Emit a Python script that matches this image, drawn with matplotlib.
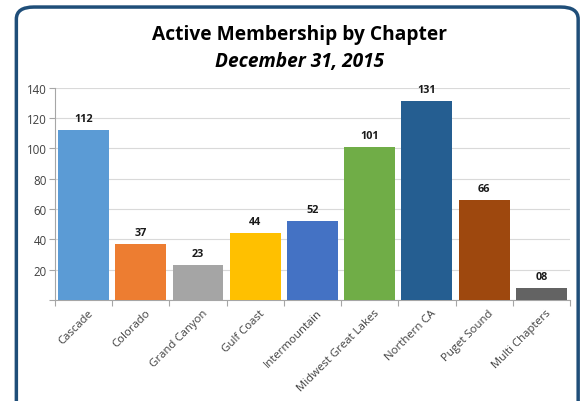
import matplotlib.pyplot as plt
import matplotlib.transforms as mtransforms
import numpy as np
from matplotlib.patches import FancyBboxPatch

chapters = ['Cascade', 'Colorado', 'Grand Canyon', 'Gulf Coast', 'Intermountain',
            'Midwest Great Lakes', 'Northern CA', 'Puget Sound', 'Multi Chapters']
members = [112, 37, 23, 44, 52, 101, 131, 66, 8]
value_labels = ['112', '37', '23', '44', '52', '101', '131', '66', '08']
colors = ['#5B9BD5', '#ED7D31', '#A5A5A5', '#FFC000', '#4472C4',
          '#70AD47', '#255E91', '#9E480E', '#636363']
yticks = [0, 20, 40, 60, 80, 100, 120, 140]

plt.rcParams['font.family'] = ['Open Sans', 'DejaVu Sans']

fig = plt.figure(figsize=(5.84, 4.02), dpi=100)

# rounded outer frame, kept behind the axes
frame = FancyBboxPatch((0.028, -0.05), 0.962, 1.03,
                       boxstyle='round,pad=0,rounding_size=0.03',
                       transform=fig.transFigure, facecolor='white',
                       edgecolor='#1F4E79', linewidth=2.5, zorder=-10)
fig.add_artist(frame)

ax = fig.add_axes([0.094, 0.251, 0.882, 0.528])
ax.set_facecolor('none')
x = np.arange(len(chapters))
ax.bar(x, members, width=0.89, color=colors, zorder=3)

for xi, v, lab in zip(x, members, value_labels):
    ax.text(xi, v + 4, lab, ha='center', va='bottom', fontsize=7.8,
            fontweight='bold', color='#1a1a1a')

ax.set_xlim(-0.5, len(chapters) - 0.5)
ax.set_ylim(0, 140)
ax.set_yticks(yticks)
ax.set_yticklabels([''] + [str(t) for t in yticks[1:]])
ax.yaxis.grid(True, color='#D9D9D9', linewidth=0.8, zorder=0)
ax.tick_params(axis='y', length=4, color='#A6A6A6', labelsize=8.3, pad=2,
               labelcolor='#404040')

ax.set_xticks(np.arange(-0.5, len(chapters)), minor=False)
ax.set_xticklabels([])
ax.set_xticks(x, minor=True)
ax.set_xticklabels(chapters, minor=True, rotation=45, ha='right',
                   rotation_mode='anchor', fontsize=8.2, color='#404040')
ax.tick_params(axis='x', which='major', length=4, color='#A6A6A6')
ax.tick_params(axis='x', which='minor', length=0, pad=5)
shift = mtransforms.ScaledTranslation(4 / 100, 0, fig.dpi_scale_trans)
for lbl in ax.get_xticklabels(minor=True):
    lbl.set_transform(lbl.get_transform() + shift)

for side in ['top', 'right']:
    ax.spines[side].set_visible(False)
for side in ['left', 'bottom']:
    ax.spines[side].set_color('#A6A6A6')
    ax.spines[side].set_linewidth(0.8)

fig.text(0.513, 0.914, 'Active Membership by Chapter', ha='center', va='center',
         fontsize=13.8, fontweight='bold')
fig.text(0.513, 0.847, 'December 31, 2015', ha='center', va='center',
         fontsize=13.8, fontweight='bold', style='italic')

fig.savefig('out.png', dpi=100)
